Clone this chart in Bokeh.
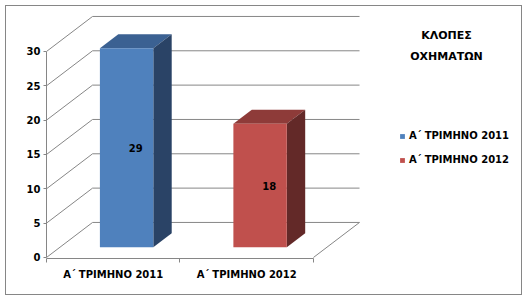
from bokeh.plotting import figure
from bokeh.models import (Range1d, FixedTicker, LinearAxis, Legend, LegendItem,
                          Label, ColumnDataSource, Grid)
from bokeh.core.properties import value
from bokeh.embed import file_html
from bokeh.resources import INLINE

# ---- data ----
categories = ["Α΄ ΤΡΙΜΗΝΟ 2011", "Α΄ ΤΡΙΜΗΝΟ 2012"]
values = [29, 18]
y_ticks = [0, 5, 10, 15, 20, 25, 30]
title_lines = ["ΚΛΟΠΕΣ", "ΟΧΗΜΑΤΩΝ"]

# ---- style ----
front_colors = ["#4F81BD", "#C0504D"]
top_colors = ["#3B6192", "#8E3B39"]
side_colors = ["#2A4366", "#632928"]
grid_color = "#868686"
FONT = "DejaVu Sans"

# 3D geometry (in data units)
DX, DY = 0.345, 5.1          # full depth offset of the walls
BAR_W = 0.40                  # bar width in category units
D0, D1 = 0.29, 0.69           # bar depth start / end (fraction of full depth)

n = len(categories)
p = figure(width=527, height=300, output_backend="svg", toolbar_location=None,
           x_range=Range1d(0, 3.551), y_range=Range1d(-0.15, 36.55),
           min_border_left=46, min_border_right=7, min_border_top=6,
           min_border_bottom=42, x_axis_location=None, y_axis_location=None)
p.outline_line_color = None
p.background_fill_color = "white"
p.border_fill_color = None
p.border_fill_alpha = 0
p.grid.visible = False
p.center = [r for r in p.center if not isinstance(r, Grid)]
p.styles = {"outline": "1px solid #868686", "outline-offset": "-6px",
            "background-color": "white"}

# ---- walls / gridlines ----
tick_top = y_ticks[-1]
p.segment(x0=[DX] * len(y_ticks), y0=[t + DY for t in y_ticks],
          x1=[n + DX] * len(y_ticks), y1=[t + DY for t in y_ticks],
          line_color=grid_color, line_width=1)
p.segment(x0=[0] * len(y_ticks), y0=y_ticks,
          x1=[DX] * len(y_ticks), y1=[t + DY for t in y_ticks],
          line_color=grid_color, line_width=1)
# floor right edge
p.segment(x0=[n], y0=[0], x1=[n + DX], y1=[DY], line_color=grid_color, line_width=1)

# ---- bars ----
xs_front_l, xs_front_r, bottoms, tops = [], [], [], []
top_xs, top_ys, side_xs, side_ys = [], [], [], []
lab_x, lab_y = [], []
ddx, ddy = (D1 - D0) * DX, (D1 - D0) * DY
for i, v in enumerate(values):
    l = i + 0.5 - BAR_W / 2 + D0 * DX
    r = l + BAR_W
    b = D0 * DY
    t = v + D0 * DY
    xs_front_l.append(l); xs_front_r.append(r); bottoms.append(b); tops.append(t)
    top_xs.append([l, r, r + ddx, l + ddx]); top_ys.append([t, t, t + ddy, t + ddy])
    side_xs.append([r, r + ddx, r + ddx, r]); side_ys.append([b, b + ddy, t + ddy, t])
    lab_x.append((l + r) / 2 + ddx / 2)
    lab_y.append((b + t) / 2)

p.patches(xs=top_xs, ys=top_ys, fill_color=top_colors, line_color=None)
p.patches(xs=side_xs, ys=side_ys, fill_color=side_colors, line_color=None)
src = ColumnDataSource(dict(left=xs_front_l, right=xs_front_r, bottom=bottoms,
                            top=tops, color=front_colors))
front = p.quad(left="left", right="right", bottom="bottom", top="top",
               fill_color="color", line_color=None, source=src)

p.text(x=lab_x, y=lab_y, text=[str(v) for v in values], text_align="center",
       text_baseline="middle", text_font_size="10px", text_font_style="bold",
       text_color="black", text_font=value(FONT))

# ---- axes ----
yaxis = LinearAxis(ticker=FixedTicker(ticks=y_ticks, minor_ticks=[]), bounds=(0, tick_top))
yaxis.axis_line_color = grid_color
yaxis.major_tick_line_color = grid_color
yaxis.major_tick_in = 0
yaxis.major_tick_out = 3
yaxis.minor_tick_line_color = None
yaxis.major_label_standoff = 3
yaxis.major_label_text_font = FONT
yaxis.major_label_text_font_size = "10px"
yaxis.major_label_text_font_style = "bold"
yaxis.major_label_text_color = "black"
p.add_layout(yaxis, "left")

centers = [i + 0.5 for i in range(n)]
xaxis = LinearAxis(ticker=FixedTicker(ticks=centers, minor_ticks=list(range(n + 1))),
                   bounds=(0, n))
xaxis.major_label_overrides = {c: lab for c, lab in zip(centers, categories)}
xaxis.axis_line_color = grid_color
xaxis.major_tick_line_color = None
xaxis.minor_tick_line_color = grid_color
xaxis.minor_tick_in = 0
xaxis.minor_tick_out = 4
xaxis.major_label_standoff = 4
xaxis.major_label_text_font = FONT
xaxis.major_label_text_font_size = "10px"
xaxis.major_label_text_font_style = "bold"
xaxis.major_label_text_color = "black"
p.add_layout(xaxis, "below")

# ---- legend ----
items = [LegendItem(label=c, renderers=[front], index=i) for i, c in enumerate(categories)]
legend = Legend(items=items, location=(353, 92), orientation="vertical")
legend.border_line_color = None
legend.background_fill_alpha = 0
legend.padding = 0
legend.margin = 0
legend.spacing = 11
legend.glyph_width = 6
legend.glyph_height = 6
legend.label_height = 13
legend.label_standoff = 4
legend.label_text_font = FONT
legend.label_text_font_size = "10px"
legend.label_text_font_style = "bold"
legend.label_text_color = "black"
p.add_layout(legend, "center")

# ---- title at right ----
for k, line in enumerate(title_lines):
    p.add_layout(Label(x=400, y=223 - 21 * k, x_units="screen", y_units="screen",
                       text=line, text_align="center", text_baseline="middle",
                       text_font=FONT, text_font_size="11px", text_font_style="bold",
                       text_color="black"))

open("out.html", "w").write(file_html(p, INLINE))
